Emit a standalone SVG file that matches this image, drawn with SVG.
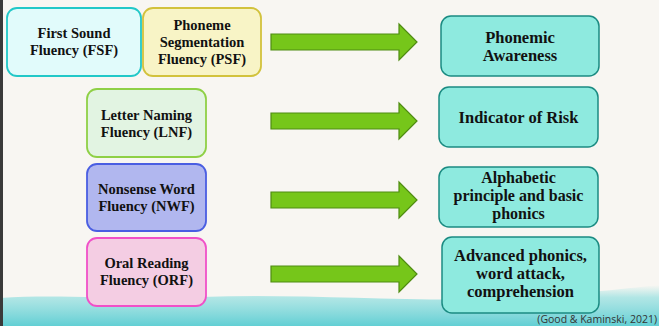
<svg xmlns="http://www.w3.org/2000/svg" width="659" height="326" viewBox="0 0 659 326">
<defs>
<linearGradient id="band" x1="0" y1="0" x2="0" y2="1">
<stop offset="0" stop-color="#a8e4e2" stop-opacity="0"/>
<stop offset="0.3" stop-color="#a0e2e2" stop-opacity="0.8"/>
<stop offset="1" stop-color="#62cfd4"/>
</linearGradient>
<style>
.t{font-family:"Liberation Serif","Times New Roman",serif;font-weight:bold;font-size:14.5px;fill:#111;text-anchor:middle}
.r{font-size:16.5px}
.s{font-size:16px}
.out rect{fill:#8eeadf;stroke:#1b8b82;stroke-width:1.5}
.arr{fill:#76c61a;stroke:#4f8c12;stroke-width:1.2;stroke-linejoin:miter}
</style>
</defs>
<rect width="659" height="326" fill="#f8f6f2"/>
<path d="M0,298 C60,294 120,300 200,297 C300,293 400,302 500,299 C560,296 620,289 659,285 L659,326 L0,326 Z" fill="url(#band)"/>
<rect x="0" y="0" width="3" height="326" fill="#3a3a3a"/>

<g id="fsf"><rect x="7" y="8" width="134" height="68" rx="10" fill="#e1fbfb" stroke="#22c8c8" stroke-width="1.8"/>
<text class="t" x="74" y="38">First Sound</text><text class="t" x="74" y="55">Fluency (FSF)</text></g>
<g id="psf"><rect x="143" y="8" width="118" height="68" rx="10" fill="#f8f4c6" stroke="#d2c23c" stroke-width="1.8"/>
<text class="t" x="202" y="30">Phoneme</text><text class="t" x="202" y="47">Segmentation</text><text class="t" x="202" y="64">Fluency (PSF)</text></g>
<g id="lnf"><rect x="87" y="89" width="119" height="68" rx="10" fill="#e2f4e2" stroke="#8fd046" stroke-width="1.8"/>
<text class="t" x="146.5" y="120">Letter Naming</text><text class="t" x="146.5" y="137">Fluency (LNF)</text></g>
<g id="nwf"><rect x="87" y="164" width="119" height="67" rx="10" fill="#b1b7ef" stroke="#4a5ee2" stroke-width="1.8"/>
<text class="t" x="146.5" y="194">Nonsense Word</text><text class="t" x="146.5" y="211">Fluency (NWF)</text></g>
<g id="orf"><rect x="87" y="238" width="119" height="68" rx="10" fill="#f4cde3" stroke="#f050c8" stroke-width="1.8"/>
<text class="t" x="146.5" y="268">Oral Reading</text><text class="t" x="146.5" y="285">Fluency (ORF)</text></g>

<g id="pa" class="out"><rect x="441" y="16" width="158" height="60" rx="10"/>
<text class="t r" x="520" y="43">Phonemic</text><text class="t r" x="520" y="61">Awareness</text></g>
<g id="ior" class="out"><rect x="439" y="87" width="159" height="60" rx="10"/>
<text class="t r" x="518.5" y="123">Indicator of Risk</text></g>
<g id="alpha" class="out"><rect x="439" y="167" width="159" height="60" rx="10"/>
<text class="t s" x="518.5" y="183">Alphabetic</text><text class="t s" x="518.5" y="201">principle and basic</text><text class="t s" x="518.5" y="219">phonics</text></g>
<g id="adv" class="out"><rect x="442" y="237" width="157" height="76" rx="10"/>
<text class="t r" x="520.5" y="261">Advanced phonics,</text><text class="t r" x="520.5" y="279">word attack,</text><text class="t r" x="520.5" y="297">comprehension</text></g>

<g id="connectors">
<path class="arr" d="M271,34 H399 V24 L417,42 L399,60 V50 H271 Z"/>
<path class="arr" d="M271,113 H399 V103 L417,121 L399,139 V129 H271 Z"/>
<path class="arr" d="M271,192 H399 V182 L417,200 L399,218 V208 H271 Z"/>
<path class="arr" d="M271,266 H399 V256 L417,274 L399,292 V282 H271 Z"/>
</g>
<text x="657" y="323" text-anchor="end" font-family="'Open Sans','DejaVu Sans',sans-serif" font-size="10.5" fill="#333">(Good &amp; Kaminski, 2021)</text>
</svg>
